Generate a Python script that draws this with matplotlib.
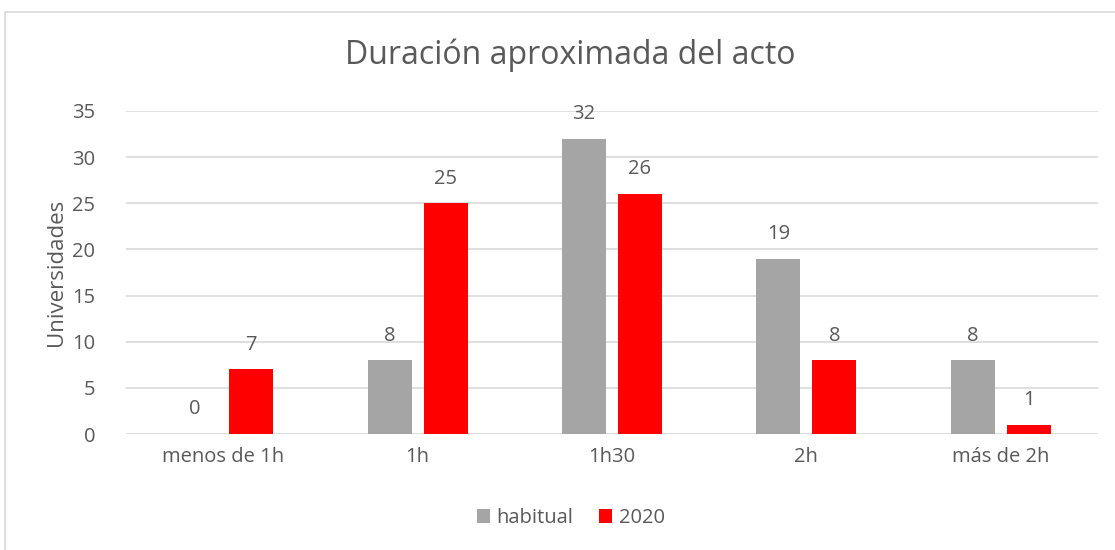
import numpy as np
import matplotlib.pyplot as plt
from matplotlib.patches import Rectangle

categories = ['menos de 1h', '1h', '1h30', '2h', 'más de 2h']
habitual = [0, 8, 32, 19, 8]
y2020 = [7, 25, 26, 8, 1]

plt.rcParams['font.family'] = ['Open Sans', 'DejaVu Sans']
txt = '#595959'

fig = plt.figure(figsize=(11.15, 5.5), dpi=100)
ax = fig.add_axes([126 / 1115, 1 - 434 / 550, 972 / 1115, 323 / 550])

# chart border
fig.patches.append(Rectangle((5 / 1115, -0.1), 1.2, 1 - 12 / 550 + 0.1,
                             transform=fig.transFigure, fill=False,
                             edgecolor='#D9D9D9', linewidth=1.2))

x = np.arange(len(categories))
w = 0.227
off = 0.144
b1 = ax.bar(x - off, habitual, w, color='#A5A5A5', label='habitual', zorder=3)
b2 = ax.bar(x + off, y2020, w, color='#FF0000', label='2020', zorder=3)

for bars in (b1, b2):
    for r in bars:
        h = r.get_height()
        ax.annotate(str(int(h)), (r.get_x() + r.get_width() / 2, h),
                    xytext=(0, 10.5), textcoords='offset points',
                    ha='center', va='bottom', fontsize=14.5, color=txt)

ax.set_xlim(-0.5, 4.5)
ax.set_ylim(0, 35)
ax.set_yticks(range(0, 36, 5))
ax.set_xticks(x)
ax.set_xticklabels(categories)
ax.yaxis.grid(True, color='#D9D9D9', linewidth=1.2, zorder=0)
for s in ax.spines.values():
    s.set_visible(False)
ax.tick_params(length=0, labelsize=14.5, colors=txt, pad=9)
ax.tick_params(axis='y', pad=22)
ax.set_ylabel('Universidades', fontsize=16, color=txt, labelpad=4)

fig.text(0.511, 0.9, 'Duración aproximada del acto', ha='center', va='center',
         fontsize=23, color=txt)

fig.legend(loc='center', bbox_to_anchor=(0.512, 0.058), ncol=2, frameon=False,
           fontsize=14.5, labelcolor=txt, handlelength=0.65, handleheight=0.65,
           handletextpad=0.3, columnspacing=1.3)

fig.savefig('out.png', dpi=100, facecolor='white')
